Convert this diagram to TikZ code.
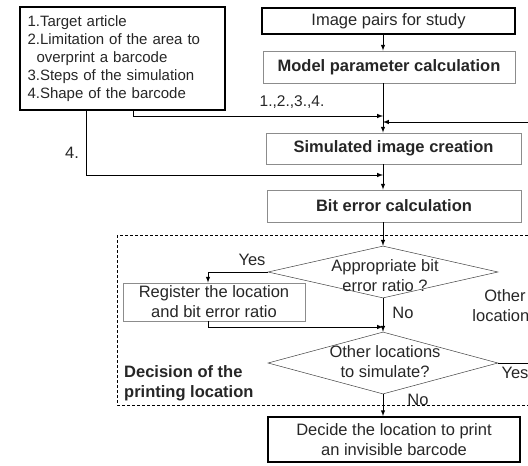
\documentclass[tikz,border=0pt]{standalone}
\usepackage{fontspec}
\setmainfont{Liberation Sans}
\usepackage{tikz}
\usetikzlibrary{arrows, shapes.geometric, calc}

\begin{document}
\begin{tikzpicture}[x=1pt,y=-1pt,>=latex,
        font=\fontsize{16.5}{20}\selectfont,
        every node/.style={text=black!85},
        thickbox/.style={draw,line width=1.8pt,inner sep=0pt},
        greybox/.style={draw=black!45,line width=0.8pt,inner sep=0pt},
        boldtext/.style={font=\fontsize{16.5}{20}\selectfont\bfseries},
        question/.style={draw=black!75,diamond,line width=0.5pt,inner sep=0pt},
        flow/.style={line width=1pt,->}]
        \clip (0,0) rectangle (528,466);
        % boxes of the main chain
        \draw node [thickbox,text width=190pt,align=left,minimum width=205pt,
            minimum height=103pt,font=\fontsize{15}{18}\selectfont]
            (Inputs) at (122.5,58.5)
            {1.Target article\\2.Limitation of the area to\\
             \hspace*{9pt}overprint a barcode\\3.Steps of the simulation\\
             4.Shape of the barcode};
        \draw node [thickbox,minimum width=253pt,minimum height=26pt]
            (Pairs) at (388.5,21) {Image pairs for study};
        \draw node [greybox,boldtext,minimum width=252pt,minimum height=32pt]
            (Model) at (389,67) {Model parameter calculation};
        \draw node [greybox,boldtext,minimum width=255pt,minimum height=31pt]
            (Sim) at (393.5,148.5) {Simulated image creation};
        \draw node [greybox,boldtext,minimum width=254pt,minimum height=32pt]
            (BitErr) at (394,206) {Bit error calculation};
        % decision part
        \draw [dashed,line width=0.8pt,dash pattern=on 3pt off 2pt]
            (117,235) rectangle (560,405);
        \draw node [question,minimum width=230pt,minimum height=52pt]
            (Q1) at (383,272) {};
        \draw node [align=center,inner sep=0pt] (Q1text) at (385,276)
            {Appropriate bit\\error ratio ?};
        \draw node [greybox,align=center,minimum width=182pt,minimum height=38pt]
            (Reg) at (214,302) {Register the location\\and bit error ratio};
        \draw node [question,minimum width=230pt,minimum height=62pt]
            (Q2) at (383,363) {};
        \draw node [align=center,inner sep=0pt] (Q2text) at (385,362)
            {Other locations\\to simulate?};
        \draw node [anchor=west,align=left,inner sep=0pt,boldtext]
            (Part) at (124,383) {Decision of the\\printing location};
        \draw node [thickbox,align=center,minimum width=252pt,minimum height=45pt]
            (Final) at (394,439.5)
            {Decide the location to print\\an invisible barcode};
        % points where lines meet
        \coordinate (Join1) at (383,116);
        \coordinate (Back) at (383,122);
        \coordinate (Join2) at (383,175);
        \coordinate (Merge) at (383,327);
        \coordinate (LoopB) at (545,363);
        \coordinate (LoopT) at (545,122);
        % connectors
        \draw [flow] (Pairs.south -| Q1) -- (Model.north -| Q1);
        \draw [flow] (Model.south -| Q1) -- (Sim.north -| Q1);
        \draw [flow] (Sim.south -| Q1) -- (BitErr.north -| Q1);
        \draw [flow] (BitErr.south -| Q1) -- (Q1.north);
        \draw [flow] (Q1.west) -| ([xshift=-6]Reg.north);
        \draw [flow] ([xshift=-6]Reg.south) |- (Merge);
        \draw [flow] (Q1.south) -- (Q2.north);
        \draw [flow] (Q2.south) -- (Final.north -| Q2);
        \draw [flow] (Q2.east) -- (LoopB) -- (LoopT) -- (Back);
        \draw [flow] ([xshift=10.5]Inputs.south) |- (Join1);
        \draw [flow] ([xshift=-36.5]Inputs.south) |- (Join2);
        % labels on the lines
        \draw node [font=\fontsize{15.5}{18}\selectfont] (L1) at (292,102)
            {1.,2.,3.,4.};
        \draw node (L2) at (72,153) {4.};
        \draw node (Yes1) at (252,260) {Yes};
        \draw node (No1) at (403,313) {No};
        \draw node [align=center] (Other) at (505,306) {Other\\locations};
        \draw node (Yes2) at (515,373) {Yes};
        \draw node (No2) at (418,400) {No};
    \end{tikzpicture}
\end{document}
